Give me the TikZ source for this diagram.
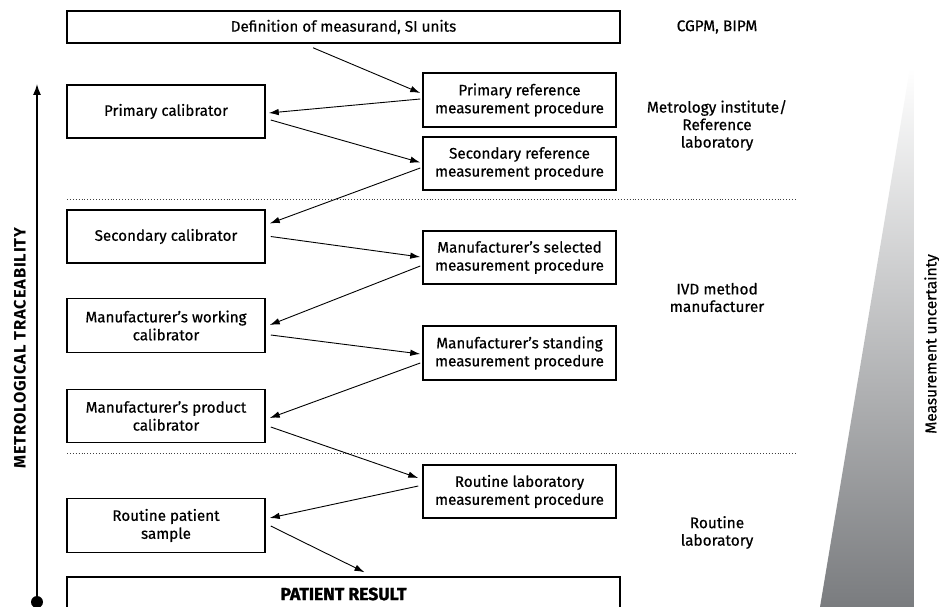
\documentclass[tikz,border=0pt]{standalone}
\usepackage{fontspec}
\setmainfont{Fira Sans}[FakeBold=0.5]
\newfontfamily\heavyfont{Fira Sans}[UprightFont={* Bold}, FakeBold=1.5]
\newfontfamily\trackfont{Fira Sans}[UprightFont={* Bold}, LetterSpace=5]
\usetikzlibrary{arrows.meta,calc}
\begin{document}
\begin{tikzpicture}[x=1pt,y=-1pt,
  box/.style={draw, line width=1.5pt, inner sep=0pt, align=center, font=\fontsize{15.2}{18}\selectfont},
  lbl/.style={align=center, inner sep=0pt, font=\fontsize{15.4}{17.5}\selectfont},
  arr/.style={line width=0.9pt, -{Latex[length=10pt,width=6.5pt]}},
  sep/.style={dotted, line width=0.9pt, black!75}
]
\clip (0,0) rectangle (939,607);
\fill[white] (0,0) rectangle (939,607);
% gradient wedge
\shade[top color=white, bottom color={rgb,255:red,122;green,124;blue,127}]
  (910,68) -- (914,68) -- (914,607) -- (820,607) -- cycle;
% boxes
\node[box, minimum width=553pt, minimum height=32pt] (def) at (343.5,27) {Definition of measurand, SI units};
\node[box, minimum width=198pt, minimum height=53pt] (pcal) at (166,111.5) {Primary calibrator};
\node[box, minimum width=193pt, minimum height=54pt] (pref) at (519.5,100) {Primary reference\\measurement procedure};
\node[box, minimum width=193pt, minimum height=53pt] (sref) at (519.5,163.5) {Secondary reference\\measurement procedure};
\node[box, minimum width=198pt, minimum height=53pt] (scal) at (166,236.5) {Secondary calibrator};
\node[box, minimum width=193pt, minimum height=53pt] (msel) at (519.5,257.5) {Manufacturer’s selected\\measurement procedure};
\node[box, minimum width=198pt, minimum height=54pt] (mwork) at (166,325.5) {Manufacturer’s working\\calibrator};
\node[box, minimum width=193pt, minimum height=54pt] (mstand) at (519.5,353) {Manufacturer’s standing\\measurement procedure};
\node[box, minimum width=198pt, minimum height=53pt] (mprod) at (166,416) {Manufacturer’s product\\calibrator};
\node[box, minimum width=193pt, minimum height=53pt] (rlab) at (519.5,491.5) {Routine laboratory\\measurement procedure};
\node[box, minimum width=198pt, minimum height=54pt] (rps) at (166,525.5) {Routine patient\\sample};
\node[box, minimum width=553pt, minimum height=34pt, font=\fontsize{17.5}{19}\heavyfont] (pres) at (343.5,594) {PATIENT RESULT};
% right labels
\node[lbl] (l1) at (717,27) {CGPM, BIPM};
\node[lbl] (l2) at (717,125.5) {Metrology institute/\\Reference\\laboratory};
\node[lbl] (l3) at (717,297.5) {IVD method\\manufacturer};
\node[lbl] (l4) at (717,532.5) {Routine\\laboratory};
% separators
\coordinate (s1a) at (67,199); \coordinate (s1b) at (796,199);
\coordinate (s2a) at (67,453); \coordinate (s2b) at (797,453);
\draw[sep] (s1a) -- (s1b);
\draw[sep] (s2a) -- (s2b);
% connectors
\draw[arr] ($(def.south)+(-30.5,4)$) -- ($(pref.west)+(-2,-7)$);
\draw[arr] ($(pref.west)+(-2,-1)$) -- ($(pcal.east)+(3,1.5)$);
\draw[arr] ($(pcal.east)+(5,8.5)$) -- ($(sref.west)+(-2,-1)$);
\draw[arr] ($(sref.west)+(-2,4.5)$) -- ($(scal.east)+(4,-13)$);
\draw[arr] ($(scal.east)+(5,0)$) -- ($(msel.west)+(-2,-0.5)$);
\draw[arr] ($(msel.west)+(-2,8.5)$) -- ($(mwork.east)+(4,-0.5)$);
\draw[arr] ($(mwork.east)+(5,9.5)$) -- ($(mstand.west)+(-2,1)$);
\draw[arr] ($(mstand.west)+(-2,10)$) -- ($(mprod.east)+(4,2)$);
\draw[arr] ($(mprod.east)+(5,11)$) -- ($(rlab.west)+(-4,-13.5)$);
\draw[arr] ($(rlab.west)+(-4,-5.5)$) -- ($(rps.east)+(4,-7.5)$);
\draw[arr] ($(rps.east)+(5,0.5)$) -- ($(pres.north)+(21,-4)$);
% traceability axis
\coordinate (tb) at (37,602);
\coordinate (tt) at (37,84);
\draw[line width=1.4pt, -{Latex[length=11pt,width=8pt]}] (tb) -- (tt);
\fill (tb) circle (6pt);
\node[rotate=90, inner sep=0pt, font=\fontsize{16.5}{19}\trackfont] (mt) at (20,348) {METROLOGICAL TRACEABILITY};
\node[rotate=90, inner sep=0pt, font=\fontsize{15.5}{17}\selectfont] (mu) at (932,344) {Measurement uncertainty};
\end{tikzpicture}
\end{document}
